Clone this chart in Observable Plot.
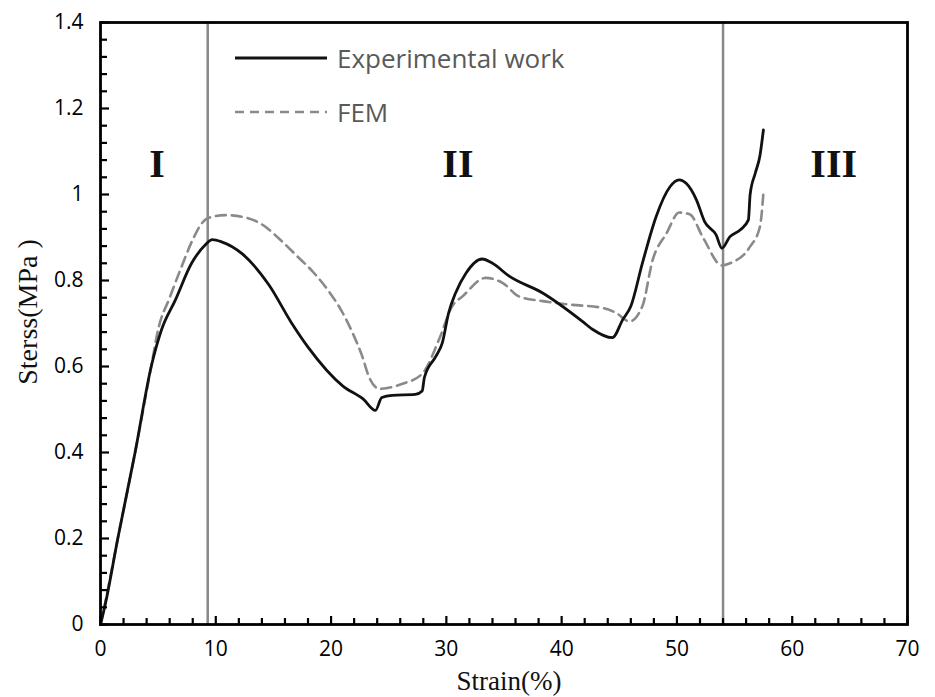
<!DOCTYPE html>
<html><head><meta charset="utf-8">
<script src="https://cdn.jsdelivr.net/npm/d3@7"></script>
<script src="https://cdn.jsdelivr.net/npm/@observablehq/plot@0.6"></script>
<style>
body{margin:0;background:#fff;}
#wrap{position:relative;width:935px;height:697px;}
.legend{position:absolute;left:235px;height:36px;font-family:"Open Sans";font-size:26px;color:#595959;display:flex;align-items:center;white-space:nowrap;}
.legend svg{margin-right:10px;}
.title{position:absolute;font-family:"Liberation Serif";color:#111;white-space:nowrap;line-height:1;}
</style></head><body><div id="wrap"></div>
<script>
// Experimental work
const expStrain = [0,0.4,1.5,3.0,4.4,5.3,6.5,7.9,9.1,9.7,10.5,12.3,14.6,16.6,18.0,21.0,22.8,23.85,24.4,25.3,27.3,27.9,28.1,29.1,29.65,30.2,30.8,31.7,33.1,34.0,35.45,38.35,41.8,42.7,44.4,45.3,46.0,47.0,48.2,49.4,50.2,50.8,51.7,52.4,53.4,53.9,54.6,55.5,56.2,56.35,56.8,57.2,57.5];
const expStress = [0,0.045,0.2,0.4,0.6,0.686,0.755,0.84,0.883,0.895,0.89,0.862,0.79,0.70,0.645,0.555,0.524,0.498,0.528,0.533,0.535,0.543,0.575,0.624,0.655,0.725,0.771,0.817,0.85,0.84,0.81,0.771,0.705,0.686,0.667,0.709,0.740,0.84,0.949,1.018,1.034,1.026,0.987,0.937,0.906,0.875,0.902,0.918,0.941,1.0,1.05,1.09,1.15];
// FEM
const femStrain = [0,0.4,1.5,3.0,4.4,5.0,6.0,7.0,8.0,8.7,9.3,10.8,12.8,14.3,15.5,17.0,18.5,19.8,21.0,22.0,22.7,23.3,24.2,26.2,27.9,29.4,30.5,31.4,33.4,34.9,36.3,38.35,40.7,43.6,44.7,45.9,47.0,47.9,49.1,50.2,51.1,52.3,53.9,54.6,56.3,57.2,57.5];
const femStress = [0,0.05,0.2,0.4,0.6,0.686,0.76,0.83,0.895,0.93,0.945,0.952,0.945,0.925,0.897,0.858,0.818,0.775,0.725,0.67,0.624,0.575,0.548,0.56,0.583,0.665,0.740,0.763,0.806,0.794,0.763,0.752,0.744,0.736,0.725,0.705,0.740,0.848,0.910,0.958,0.954,0.898,0.835,0.840,0.877,0.925,1.003];
// region boundaries and labels
const regionBounds = [9.3, 54.0];
const regionLabels = ["I", "II", "III"];
const regionX = [4.9, 31.0, 63.6];
const regionY = [1.07, 1.07, 1.07];
// ticks
const xTicks = [0,10,20,30,40,50,60,70];
const xMinor = [2,4,6,8,12,14,16,18,22,24,26,28,32,34,36,38,42,44,46,48,52,54,56,58,62,64,66,68];
const yTicks = [0,0.2,0.4,0.6,0.8,1,1.2,1.4];
const yMinor = [0.04,0.08,0.12,0.16,0.24,0.28,0.32,0.36,0.44,0.48,0.52,0.56,0.64,0.68,0.72,0.76,0.84,0.88,0.92,0.96,1.04,1.08,1.12,1.16,1.24,1.28,1.32,1.36];
const seriesNames = ["Experimental work", "FEM"];
const xTitle = "Strain(%)";
const yTitle = "Sterss(MPa )";

const exp = expStrain.map((x,i)=>({x, y: expStress[i]}));
const fem = femStrain.map((x,i)=>({x, y: femStress[i]}));

const chart = Plot.plot({
  width: 935, height: 697,
  marginLeft: 100, marginRight: 28, marginTop: 22, marginBottom: 73,
  x: {domain: [0, 70]},
  y: {domain: [0, 1.4]},
  style: {fontFamily: "Open Sans", fontSize: "20px", color: "black", background: "white"},
  marks: [
    Plot.ruleX(regionBounds, {stroke: "#888", strokeWidth: 2.5}),
    Plot.line(fem, {x: "x", y: "y", stroke: "#8a8a8a", strokeWidth: 2.6, strokeDasharray: "10,6", curve: "monotone-x"}),
    Plot.line(exp, {x: "x", y: "y", stroke: "#111", strokeWidth: 2.8, curve: "monotone-x"}),
    Plot.axisY({ticks: yMinor, tickSize: -7, tickFormat: () => "", label: null, strokeWidth: 2.2}),
    Plot.axisY({ticks: yTicks, tickSize: -9, tickFormat: () => "", label: null, strokeWidth: 2.2}),
    Plot.axisX({ticks: xMinor, tickSize: -6, tickFormat: () => "", label: null, strokeWidth: 2.2}),
    Plot.axisX({ticks: xTicks, tickSize: -8, tickFormat: () => "", label: null, strokeWidth: 2.2}),
    Plot.axisX({ticks: xTicks, tickSize: 0, tickPadding: 17, label: null, fontSize: 21, tickFormat: d => String(d)}),
    Plot.axisY({ticks: yTicks, tickSize: 0, tickPadding: 17, label: null, fontSize: 21, tickFormat: d => String(d)}),
    Plot.frame({stroke: "black", strokeWidth: 2.8}),
    Plot.text(regionLabels, {x: regionX, y: regionY, text: d => d, fontFamily: "Liberation Serif", fontWeight: "bold", fontSize: 40, fill: "#111"})
  ]
});
const wrap = document.getElementById("wrap");
wrap.appendChild(chart);

function legendRow(name, top, dash, color, w) {
  const div = document.createElement("div");
  div.className = "legend";
  div.style.top = top + "px";
  div.innerHTML = `<svg width="92" height="10"><line x1="0" x2="92" y1="5" y2="5" stroke="${color}" stroke-width="${w}" ${dash ? `stroke-dasharray="${dash}"` : ""}/></svg><span>${name}</span>`;
  wrap.appendChild(div);
}
legendRow(seriesNames[0], 40, null, "#111", 3);
legendRow(seriesNames[1], 94, "9,6", "#8a8a8a", 2.6);

const xt = document.createElement("div");
xt.className = "title";
xt.textContent = xTitle;
xt.style.fontSize = "27px";
xt.style.left = "509px"; xt.style.top = "681px";
xt.style.transform = "translate(-50%,-50%)";
wrap.appendChild(xt);

const yt = document.createElement("div");
yt.className = "title";
yt.textContent = yTitle;
yt.style.fontSize = "28px";
yt.style.left = "28px"; yt.style.top = "312px";
yt.style.transform = "translate(-50%,-50%) rotate(-90deg)";
wrap.appendChild(yt);
</script></body></html>
